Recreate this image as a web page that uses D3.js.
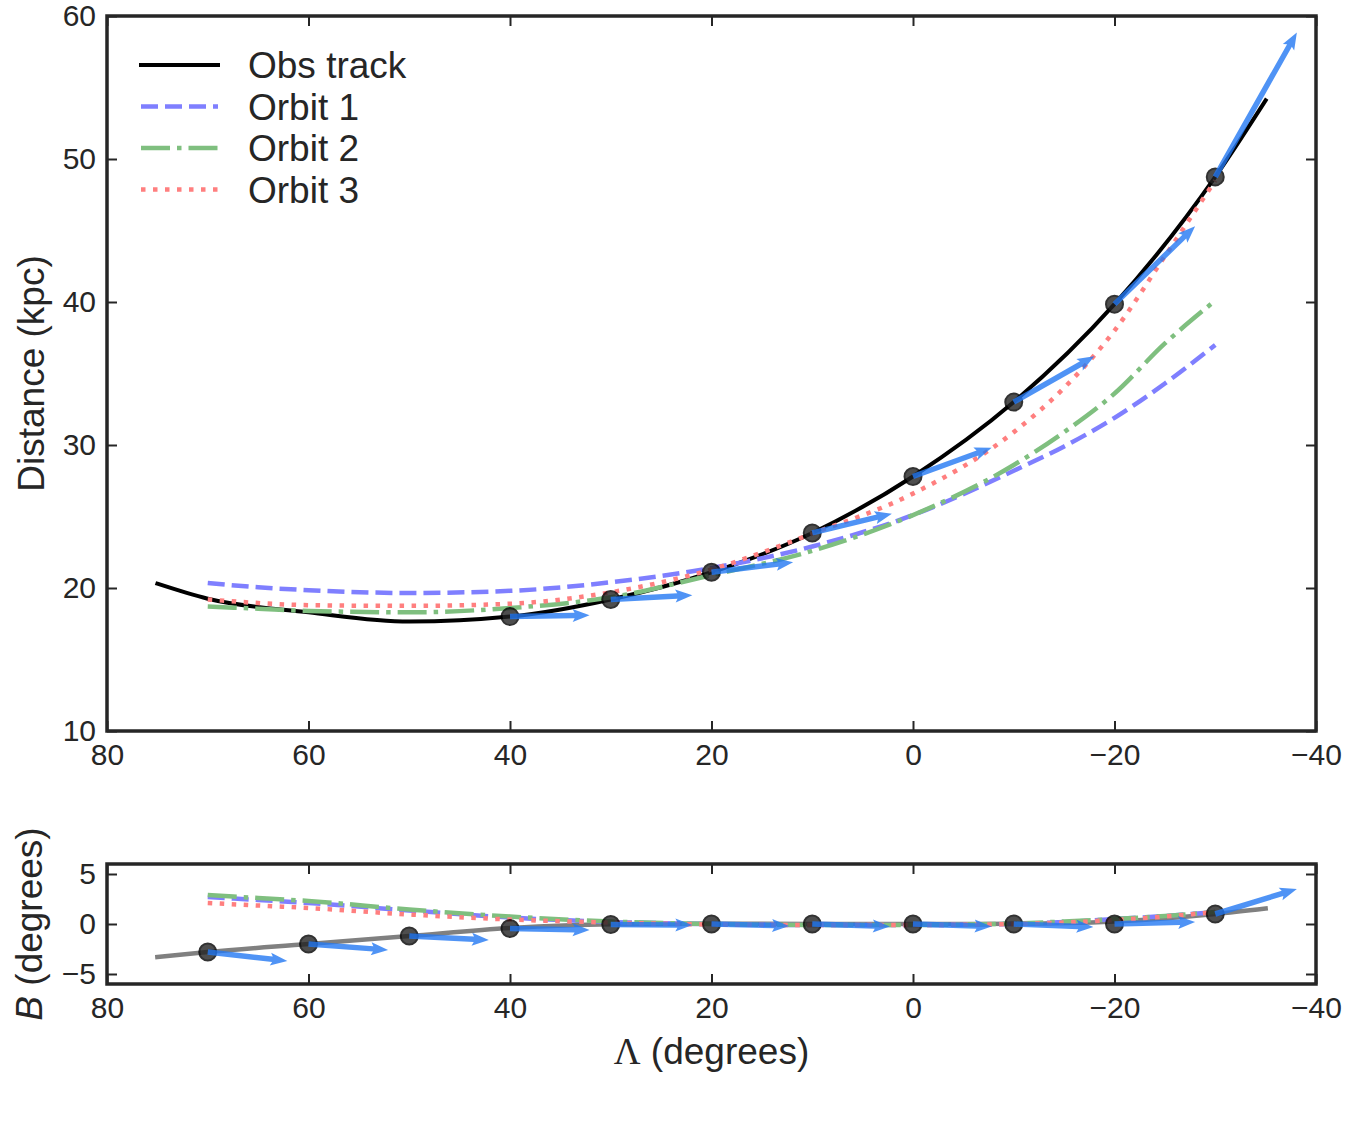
<!DOCTYPE html>
<html>
<head>
<meta charset="utf-8">
<script src="https://cdn.jsdelivr.net/npm/d3@7"></script>
<style>
  body { margin: 0; background: #fff; }
  text { font-family: "Liberation Sans", Arial, sans-serif; fill: #262626; }
</style>
</head>
<body>
<div id="chart"></div>
<script>
// observed track, Lambda in degrees
const lamTrack = [75, 70, 60, 50, 40, 30, 20, 10, 0, -10, -20, -30, -35];
const distTrack = [20.3, 19.25, 18.3, 17.65, 18.0, 19.2, 21.1, 23.85, 27.8, 33.0, 39.85, 48.75, 54.1];
const bTrack = [-3.3, -2.8, -2.0, -1.2, -0.4, -0.02, 0.03, 0.0, 0.0, 0.02, 0.25, 1.0, 1.55];

// orbits
const lamOrbit = [70, 65, 60, 50, 40, 30, 20, 10, 0, -10, -15, -20, -25, -30];
const distOrbit1 = [20.35, 20.05, 19.85, 19.65, 19.8, 20.4, 21.4, 22.9, 25.1, 28.2, 29.9, 31.9, 34.3, 37.0];
const distOrbit2 = [18.7, 18.55, 18.4, 18.3, 18.6, 19.35, 20.9, 22.6, 25.1, 28.6, 30.9, 33.6, 37.1, 40.1];
const distOrbit3 = [19.2, 18.95, 18.8, 18.75, 18.9, 19.7, 21.3, 23.8, 26.6, 30.9, 34.0, 38.0, 43.2, 48.5];
const bOrbit1 = [2.7, 2.4, 2.1, 1.35, 0.65, 0.2, 0.0, -0.1, -0.1, 0.0, 0.2, 0.5, 0.8, 1.2];
const bOrbit2 = [2.9, 2.6, 2.3, 1.45, 0.75, 0.25, 0.0, -0.1, -0.1, 0.05, 0.25, 0.5, 0.8, 1.2];
const bOrbit3 = [2.1, 1.85, 1.6, 0.95, 0.45, 0.15, -0.05, -0.1, -0.1, 0.0, 0.15, 0.4, 0.75, 1.2];

// data points + velocity arrows
const lamPtsTop = [40, 30, 20, 10, 0, -10, -20, -30];
const distPts = [18.0, 19.2, 21.1, 23.85, 27.8, 33.0, 39.85, 48.75];
const vecLamTop = [-7.9, -8.1, -8.1, -7.9, -7.8, -8.0, -8.0, -8.1];
const vecDist = [0.1, 0.3, 0.7, 1.35, 2.0, 3.2, 5.45, 10.1];

const lamPtsBot = [70, 60, 50, 40, 30, 20, 10, 0, -10, -20, -30];
const bPts = [-2.8, -2.0, -1.2, -0.45, -0.05, 0.0, 0.0, 0.0, 0.0, 0.0, 1.0];
const vecLamBot = [-7.9, -7.9, -7.9, -7.9, -8.1, -7.7, -7.7, -7.8, -7.9, -8.0, -8.1];
const vecB = [-0.9, -0.6, -0.4, -0.15, -0.05, -0.2, -0.25, -0.25, -0.3, 0.2, 2.5];

const lamTicks = [80, 60, 40, 20, 0, -20, -40];
const distTicks = [10, 20, 30, 40, 50, 60];
const bTicks = [-5, 0, 5];

const legendNames = ['Obs track', 'Orbit 1', 'Orbit 2', 'Orbit 3'];

const W = 1350, H = 1125;
const left = 107, right = 1316;
const topY0 = 16, topY1 = 731;
const botY0 = 864, botY1 = 984;

const styles = {
  track: { stroke: '#000', width: 4, dash: null },
  orbit1: { stroke: '#7f7fff', width: 4.5, dash: '17,7' },
  orbit2: { stroke: '#7fbf7f', width: 4.5, dash: '29,7,4.5,7' },
  orbit3: { stroke: '#ff7f7f', width: 4.5, dash: '4.5,7.5' }
};

const svg = d3.select('#chart').append('svg')
  .attr('width', W).attr('height', H);
svg.append('rect').attr('width', W).attr('height', H).attr('fill', '#fff');

const x = d3.scaleLinear().domain([80, -40]).range([left, right]);
const yTop = d3.scaleLinear().domain([10, 60]).range([topY1, topY0]);
const yBot = d3.scaleLinear().domain([-6, 6]).range([botY1, botY0]);

function drawLine(g, lams, vals, y, st) {
  const line = d3.line()
    .x(d => x(d[0]))
    .y(d => y(d[1]))
    .curve(d3.curveMonotoneX);
  const p = g.append('path')
    .datum(d3.zip(lams, vals))
    .attr('d', line)
    .attr('fill', 'none')
    .attr('stroke', st.stroke)
    .attr('stroke-width', st.width)
    .attr('stroke-linecap', st.dash ? 'butt' : 'square');
  if (st.dash) p.attr('stroke-dasharray', st.dash);
  return p;
}

// quiver-like arrow polygon in pixel space
function arrowPoints(x0, y0, x1, y1) {
  const w = 5.5, hl = 17, hw = 13, ha = 15;
  const dx = x1 - x0, dy = y1 - y0;
  const len = Math.sqrt(dx * dx + dy * dy);
  const ux = dx / len, uy = dy / len;
  const nx = -uy, ny = ux;
  const bx = x1 - ux * hl, by = y1 - uy * hl;
  const jx = x1 - ux * ha, jy = y1 - uy * ha;
  return [
    [x0 + nx * w / 2, y0 + ny * w / 2],
    [jx + nx * w / 2, jy + ny * w / 2],
    [bx + nx * hw / 2, by + ny * hw / 2],
    [x1, y1],
    [bx - nx * hw / 2, by - ny * hw / 2],
    [jx - nx * w / 2, jy - ny * w / 2],
    [x0 - nx * w / 2, y0 - ny * w / 2]
  ].map(p => p.join(',')).join(' ');
}

function drawPointsArrows(g, lams, vals, vLam, vVal, y) {
  g.selectAll('circle.pt')
    .data(d3.zip(lams, vals))
    .enter().append('circle')
    .attr('class', 'pt')
    .attr('cx', d => x(d[0]))
    .attr('cy', d => y(d[1]))
    .attr('r', 8.5)
    .attr('fill', '#222')
    .attr('stroke', '#000')
    .attr('stroke-width', 2)
    .attr('opacity', 0.8);
  g.selectAll('polygon.arrow')
    .data(d3.zip(lams, vals, vLam, vVal))
    .enter().append('polygon')
    .attr('class', 'arrow')
    .attr('points', d => arrowPoints(x(d[0]), y(d[1]), x(d[0] + d[2]), y(d[1] + d[3])))
    .attr('fill', '#2378f2')
    .attr('opacity', 0.8);
}

function drawAxes(g, y, yTicks, y0, y1) {
  const tickStyle = a => {
    a.select('.domain').remove();
    a.selectAll('.tick line').attr('stroke', '#262626').attr('stroke-width', 2);
    a.selectAll('.tick text').attr('fill', '#262626')
      .style('font-family', '"Liberation Sans", Arial, sans-serif')
      .style('font-size', '30px');
  };
  g.append('g').attr('transform', `translate(0,${y1})`)
    .call(d3.axisBottom(x).tickValues(lamTicks).tickSizeInner(-10).tickSizeOuter(0).tickPadding(13))
    .call(tickStyle);
  g.append('g').attr('transform', `translate(0,${y0})`)
    .call(d3.axisTop(x).tickValues(lamTicks).tickSizeInner(-10).tickSizeOuter(0).tickFormat(''))
    .call(tickStyle);
  g.append('g').attr('transform', `translate(${left},0)`)
    .call(d3.axisLeft(y).tickValues(yTicks).tickSizeInner(-10).tickSizeOuter(0).tickPadding(11))
    .call(tickStyle);
  g.append('g').attr('transform', `translate(${right},0)`)
    .call(d3.axisRight(y).tickValues(yTicks).tickSizeInner(-10).tickSizeOuter(0).tickFormat(''))
    .call(tickStyle);
  g.append('rect')
    .attr('x', left).attr('y', y0)
    .attr('width', right - left).attr('height', y1 - y0)
    .attr('fill', 'none')
    .attr('stroke', '#262626')
    .attr('stroke-width', 3.5);
}

// top panel
const gTop = svg.append('g');
drawLine(gTop, lamTrack, distTrack, yTop, styles.track);
drawLine(gTop, lamOrbit, distOrbit1, yTop, styles.orbit1);
drawLine(gTop, lamOrbit, distOrbit2, yTop, styles.orbit2);
drawLine(gTop, lamOrbit, distOrbit3, yTop, styles.orbit3);
drawPointsArrows(gTop, lamPtsTop, distPts, vecLamTop, vecDist, yTop);
drawAxes(gTop, yTop, distTicks, topY0, topY1);

// bottom panel
const gBot = svg.append('g');
drawLine(gBot, lamTrack, bTrack, yBot, { stroke: '#808080', width: 4.5, dash: null });
drawLine(gBot, lamOrbit, bOrbit1, yBot, styles.orbit1);
drawLine(gBot, lamOrbit, bOrbit2, yBot, styles.orbit2);
drawLine(gBot, lamOrbit, bOrbit3, yBot, styles.orbit3);
drawPointsArrows(gBot, lamPtsBot, bPts, vecLamBot, vecB, yBot);
drawAxes(gBot, yBot, bTicks, botY0, botY1);

// legend
const legendStyles = [styles.track, styles.orbit1, styles.orbit2, styles.orbit3];
const legend = svg.append('g');
legendNames.forEach((name, i) => {
  const ly = 65 + i * 41.5;
  const st = legendStyles[i];
  const l = legend.append('line')
    .attr('x1', 141).attr('x2', 218)
    .attr('y1', ly).attr('y2', ly)
    .attr('stroke', st.stroke)
    .attr('stroke-width', st.width)
    .attr('stroke-linecap', st.dash ? 'butt' : 'square');
  if (st.dash) l.attr('stroke-dasharray', st.dash);
  legend.append('text')
    .attr('x', 248).attr('y', ly + 13)
    .style('font-size', '37px')
    .text(name);
});

// axis labels
svg.append('text')
  .attr('transform', `translate(44,${(topY0 + topY1) / 2}) rotate(-90)`)
  .attr('text-anchor', 'middle')
  .style('font-size', '37px')
  .text('Distance (kpc)');

const bLab = svg.append('text')
  .attr('transform', `translate(42,${(botY0 + botY1) / 2}) rotate(-90)`)
  .attr('text-anchor', 'middle')
  .style('font-size', '37px');
bLab.append('tspan').style('font-style', 'italic').text('B');
bLab.append('tspan').text(' (degrees)');

const lLab = svg.append('text')
  .attr('x', (left + right) / 2).attr('y', 1064)
  .attr('text-anchor', 'middle')
  .style('font-size', '37px');
lLab.append('tspan').style('font-family', '"Liberation Serif", "DejaVu Serif", serif').text('Λ');
lLab.append('tspan').text(' (degrees)');
</script>
</body>
</html>
